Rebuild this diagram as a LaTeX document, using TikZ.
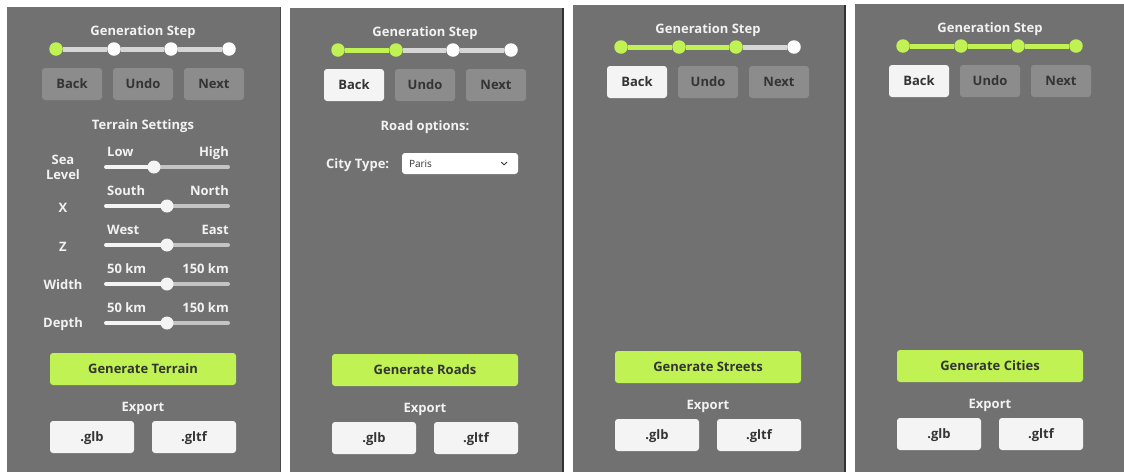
\documentclass[tikz,border=0pt]{standalone}
\usepackage{fontspec}
\setmainfont{Open Sans}

\definecolor{panelgray}{RGB}{113,113,113}
\definecolor{paneledge}{RGB}{50,50,50}
\definecolor{btngray}{RGB}{140,140,140}
\definecolor{btnwhite}{RGB}{244,244,244}
\definecolor{btntext}{RGB}{52,52,52}
\definecolor{lime}{RGB}{191,242,82}
\definecolor{trackgray}{RGB}{214,214,214}
\definecolor{railgray}{RGB}{196,196,196}
\definecolor{labelwhite}{RGB}{242,242,242}

\tikzset{
  panel/.style={fill=panelgray, draw=none},
  txt/.style={inner sep=0pt, text height=9.3pt, text depth=0pt},
  heading/.style={txt, text=labelwhite, font=\bfseries\fontsize{13}{13}\selectfont},
  btn/.style={txt, rounded corners=3pt, minimum width=60pt, minimum height=32pt,
    text=btntext, font=\bfseries\fontsize{13}{13}\selectfont},
  btnoff/.style={btn, fill=btngray},
  btnon/.style={btn, fill=btnwhite},
  genbtn/.style={btn, fill=lime, minimum width=186pt},
  expbtn/.style={btn, fill=btnwhite, minimum width=84pt},
  dot/.style={circle, minimum size=13.5pt, inner sep=0pt},
  doton/.style={dot, fill=lime},
  dotoff/.style={dot, fill=white},
  track/.style={line width=5pt, draw=trackgray},
  trackon/.style={line width=5pt, draw=lime},
  knob/.style={circle, minimum size=13pt, inner sep=0pt, fill=btnwhite},
  railon/.style={line width=4pt, line cap=round, draw=btnwhite},
  railoff/.style={line width=4pt, line cap=round, draw=railgray},
  dropbox/.style={rounded corners=3pt, fill=white, minimum width=116pt,
    minimum height=21pt, inner sep=0pt},
  droptext/.style={inner sep=0pt, text height=7.1pt, text depth=0pt,
    text=btntext, font=\fontsize{10}{10}\selectfont},
  chevron/.style={draw=btntext, line width=0.9pt, line cap=round, line join=round},
}

% progress indicator: #1 name prefix, #2 number of finished steps
\newcommand\stepbar[2]{%
  \node[heading] (#1title) at (135,24) {Generation Step};
  \foreach \i/\xx in {1/48,2/106,3/163,4/221}{%
    \ifnum\i>\numexpr#2+1\relax
      \node[dotoff] (#1dot\i) at (\xx,42) {};
    \else
      \node[doton] (#1dot\i) at (\xx,42) {};
    \fi
  }
  \foreach \i/\j in {1/2,2/3,3/4}{%
    \ifnum\i>#2\relax
      \draw[track] (#1dot\i.east) -- (#1dot\j.west);
    \else
      \draw[trackon] (#1dot\i.east) -- (#1dot\j.west);
    \fi
  }
}

% Back / Undo / Next row: #1 prefix, #2 style of the Back button
\newcommand\navrow[2]{%
  \node[#2] (#1back) at (64,77) {Back};
  \node[btnoff] (#1undo) at (135,77) {Undo};
  \node[btnoff] (#1next) at (206,77) {Next};
}

% generate button and export block: #1 prefix, #2 generate label
\newcommand\exportblock[2]{%
  \node[genbtn] (#1gen) at (135,362) {#2};
  \node[heading] (#1export) at (135,400) {Export};
  \node[expbtn] (#1glb) at (84,430) {.glb};
  \node[expbtn] (#1gltf) at (186,430) {.gltf};
}

% slider: #1 name, #2 rail y, #3 knob x, #4 low label, #5 high label
\newcommand\slider[5]{%
  \coordinate (#1lo) at (98,#2);
  \coordinate (#1hi) at (220,#2);
  \coordinate (#1pos) at (#3,#2);
  \draw[railoff] (#1pos) -- (#1hi);
  \draw[railon] (#1lo) -- (#1pos);
  \node[knob] (#1knob) at (#1pos) {};
  \node[heading, anchor=west] (#1min) at (99,#2-15) {#4};
  \node[heading, anchor=east] (#1max) at (221,#2-15) {#5};
}

\begin{document}
\begin{tikzpicture}[x=1pt,y=-1pt]
\useasboundingbox (0,0) rectangle (1124,472);
\fill[white] (0,0) rectangle (1124,472);

% panel backgrounds
\fill[panel] (7,7) rectangle (281,472);
\fill[paneledge!60!panelgray] (280,7) rectangle (281,472);
\fill[panel] (290,8) rectangle (564,472);
\fill[paneledge] (561.5,8) rectangle (564,472);
\fill[panel] (573,5) rectangle (846,472);
\fill[paneledge] (843.5,5) rectangle (846,472);
\fill[panel] (855,4) rectangle (1124,472);

% terrain step
\begin{scope}[shift={(8,7)}]
  \stepbar{a}{0}
  \navrow{a}{btnoff}
  \node[heading] (aterrain) at (135,118) {Terrain Settings};
  \node[heading] (asealabel) at (55,153) {Sea};
  \node[heading] (alevel) at (55,168) {Level};
  \slider{asea}{160}{146}{Low}{High}
  \node[heading] (axlabel) at (55,201) {X};
  \slider{ax}{199}{159}{South}{North}
  \node[heading] (azlabel) at (55,240) {Z};
  \slider{az}{238}{159}{West}{East}
  \node[heading] (awidth) at (55,278) {Width};
  \slider{aw}{277}{159}{50 km}{150 km}
  \node[heading] (adepth) at (55,316) {Depth};
  \slider{ad}{316}{159}{50 km}{150 km}
  \exportblock{a}{Generate Terrain}
\end{scope}

% road step
\begin{scope}[shift={(290,8)}]
  \stepbar{b}{1}
  \navrow{b}{btnon}
  \node[heading] (broad) at (135,118) {Road options:};
  \node[heading, anchor=west] (bcity) at (36,155.5) {City Type:};
  \node[dropbox] (bdrop) at (170,155.5) {};
  \node[droptext, anchor=west] (bparis) at ([xshift=7pt]bdrop.west) {Paris};
  \coordinate (bchev) at ([xshift=-14pt]bdrop.east);
  \draw[chevron] ([xshift=-2.8pt,yshift=1.4pt]bchev) -- ([yshift=-1.4pt]bchev)
    -- ([xshift=2.8pt,yshift=1.4pt]bchev);
  \exportblock{b}{Generate Roads}
\end{scope}

% street step
\begin{scope}[shift={(573,5)}]
  \stepbar{c}{2}
  \navrow{c}{btnon}
  \exportblock{c}{Generate Streets}
\end{scope}

% city step
\begin{scope}[shift={(855,4)}]
  \stepbar{d}{3}
  \navrow{d}{btnon}
  \exportblock{d}{Generate Cities}
\end{scope}
\end{tikzpicture}
\end{document}
